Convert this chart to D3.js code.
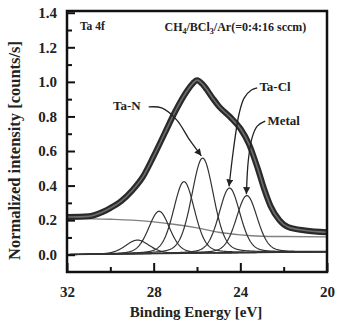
<!DOCTYPE html>
<html><head><meta charset="utf-8">
<script src="https://cdn.jsdelivr.net/npm/d3@7"></script>
<style>
body{margin:0;background:#fff;}
text{font-family:"Liberation Serif","Times New Roman",serif;font-weight:bold;fill:#222;}
</style></head>
<body>
<svg id="c" width="337" height="327"></svg>
<script>
// ---- data ----
const xTicks = [32, 28, 24, 20];
const xMinorTicks = [30, 26, 22];
const yTicks = [0.0, 0.2, 0.4, 0.6, 0.8, 1.0, 1.2, 1.4];
const yMinorTicks = [0.1, 0.3, 0.5, 0.7, 0.9, 1.1, 1.3];

// measured envelope (binding energy eV, normalized intensity)
const envBE  = [32.0, 31.0, 30.4, 30.0, 29.5, 29.0, 28.5, 28.0, 27.5, 27.0, 26.5, 26.2, 26.0, 25.7, 25.3, 25.0, 24.5, 24.0, 23.6, 23.2, 22.9, 22.6, 22.2, 21.8, 21.0, 20.0];
const envVal = [0.218, 0.222, 0.245, 0.27, 0.31, 0.37, 0.45, 0.57, 0.70, 0.83, 0.94, 0.99, 1.01, 0.98, 0.91, 0.86, 0.80, 0.73, 0.64, 0.50, 0.38, 0.28, 0.20, 0.16, 0.14, 0.13];

// Shirley background
const bgBE  = [32, 30, 29, 28, 27, 26, 25, 24, 23, 22, 20];
const bgVal = [0.21, 0.205, 0.20, 0.19, 0.175, 0.155, 0.13, 0.115, 0.107, 0.105, 0.103];

// linear baseline under the components
const baseBE  = [32, 20];
const baseVal = [0.0, 0.017];

// fitted components
const peakCenter = [28.75, 27.75, 26.6, 25.74, 24.5, 23.7];
const peakHeight = [0.08, 0.245, 0.415, 0.55, 0.375, 0.33];
const peakFWHM   = [1.3, 1.15, 1.15, 1.2, 1.15, 1.15];

// ---- drawing ----
const svg = d3.select("#c");
const L = 67, R = 327, T = 11, B = 272;
const x = d3.scaleLinear().domain([32, 20]).range([L, R]);
const y = d3.scaleLinear().domain([-0.1, 1.41]).range([B, T]);

const baseAt = be => baseVal[0] + (baseVal[1]-baseVal[0])*(be-baseBE[0])/(baseBE[1]-baseBE[0]);
function pv(be, c, h, w){
  const s = w/2.3548, g = Math.exp(-0.5*((be-c)/s)**2);
  const l = 1/(1+((be-c)/(w/2))**2);
  return h*(0.75*g + 0.25*l);
}
const grid = d3.range(0, 601).map(i => 32 - i*0.02);

const defs = svg.append("defs");
defs.append("clipPath").attr("id","clip").append("rect")
  .attr("x",L).attr("y",T).attr("width",R-L).attr("height",B-T);
defs.append("marker").attr("id","ah").attr("viewBox","0 0 10 10")
  .attr("refX",10).attr("refY",5).attr("markerWidth",7).attr("markerHeight",7)
  .attr("orient","auto").attr("markerUnits","userSpaceOnUse")
  .append("path").attr("d","M0,0 L10,5 L0,10 z").attr("fill","#222");

const g = svg.append("g").attr("clip-path","url(#clip)");
const line = d3.line().x(d=>x(d[0])).y(d=>y(d[1]));

// baseline
g.append("path").attr("d", line(baseBE.map((b,i)=>[b, baseVal[i]])))
  .attr("fill","none").attr("stroke","#333").attr("stroke-width",1.3);

// background
g.append("path").attr("d", d3.line().x(d=>x(d[0])).y(d=>y(d[1])).curve(d3.curveMonotoneX)(bgBE.map((b,i)=>[b,bgVal[i]])))
  .attr("fill","none").attr("stroke","#808080").attr("stroke-width",1.4);

// components
peakCenter.forEach((c,i)=>{
  g.append("path")
    .attr("d", line(grid.map(be=>[be, baseAt(be)+pv(be,c,peakHeight[i],peakFWHM[i])])))
    .attr("fill","none").attr("stroke","#333").attr("stroke-width",1.2);
});

// envelope
const envLine = d3.line().x(d=>x(d[0])).y(d=>y(d[1])).curve(d3.curveMonotoneX);
const envD = envLine(envBE.map((b,i)=>[b,envVal[i]]));
g.append("path").attr("d",envD).attr("fill","none").attr("stroke","#2a2a2a").attr("stroke-width",6).attr("stroke-linejoin","round");
g.append("path").attr("d",envD).attr("fill","none").attr("stroke","#6e6e6e").attr("stroke-width",1.6);

// axes
svg.append("g").attr("transform",`translate(0,${B})`)
  .call(d3.axisBottom(x).tickValues(xTicks).tickSize(-9).tickPadding(14).tickFormat(d3.format("d")));
svg.append("g").attr("transform",`translate(0,${B})`)
  .call(d3.axisBottom(x).tickValues(xMinorTicks).tickSize(-5).tickFormat(""));
svg.append("g").attr("transform",`translate(${L},0)`)
  .call(d3.axisLeft(y).tickValues(yTicks).tickSize(-8).tickPadding(10).tickFormat(d3.format(".1f")));
svg.append("g").attr("transform",`translate(${L},0)`)
  .call(d3.axisLeft(y).tickValues(yMinorTicks).tickSize(-5).tickFormat(""));
svg.selectAll(".domain").remove();
svg.selectAll(".tick line").attr("stroke","#111").attr("stroke-width",2);
svg.selectAll(".tick text").attr("font-size",15).attr("font-family","Liberation Serif").attr("font-weight","bold").attr("fill","#222");

// frame
svg.append("rect").attr("x",L).attr("y",T).attr("width",R-L).attr("height",B-T)
  .attr("fill","none").attr("stroke","#111").attr("stroke-width",2.5);

// titles
svg.append("text").attr("x",(L+R)/2 - 1).attr("y",317).attr("text-anchor","middle")
  .attr("font-size",15).text("Binding Energy [eV]");
svg.append("text").attr("transform",`translate(20,${(T+B)/2+9}) rotate(-90)`)
  .attr("text-anchor","middle").attr("font-size",16.5).text("Normalized intensity [counts/s]");

// inner labels
svg.append("text").attr("x",x(31.4)).attr("y",y(1.30)).attr("font-size",11.5).text("Ta 4f");
const t = svg.append("text").attr("x",x(27.5)).attr("y",y(1.295)).attr("font-size",12);
t.append("tspan").text("CH");
t.append("tspan").attr("font-size",8).attr("dy",3).text("4");
t.append("tspan").attr("dy",-3).text("/BCl");
t.append("tspan").attr("font-size",8).attr("dy",3).text("3");
t.append("tspan").attr("dy",-3).text("/Ar(=0:4:16 sccm)");

// annotations (data coordinates)
const annot = [
  {label:"Ta-N",  lx:29.88, ly:0.835, path:[[28.23,0.855],[27.63,0.849],[26.94,0.78],[26.34,0.664],[25.80,0.572]]},
  {label:"Ta-Cl", lx:23.12, ly:0.945, path:[[23.22,0.965],[23.49,0.953],[23.82,0.907],[24.05,0.82],[24.32,0.606],[24.52,0.395]]},
  {label:"Metal", lx:22.75, ly:0.75,  path:[[22.85,0.773],[23.22,0.744],[23.45,0.68],[23.63,0.548],[23.72,0.35]]}
];
const aLine = d3.line().x(d=>x(d[0])).y(d=>y(d[1])).curve(d3.curveCatmullRom);
annot.forEach(a=>{
  svg.append("path").attr("d",aLine(a.path)).attr("fill","none").attr("stroke","#222")
    .attr("stroke-width",1.3).attr("marker-end","url(#ah)");
  svg.append("text").attr("x",x(a.lx)).attr("y",y(a.ly)).attr("font-size",13).text(a.label);
});
</script>
</body></html>
